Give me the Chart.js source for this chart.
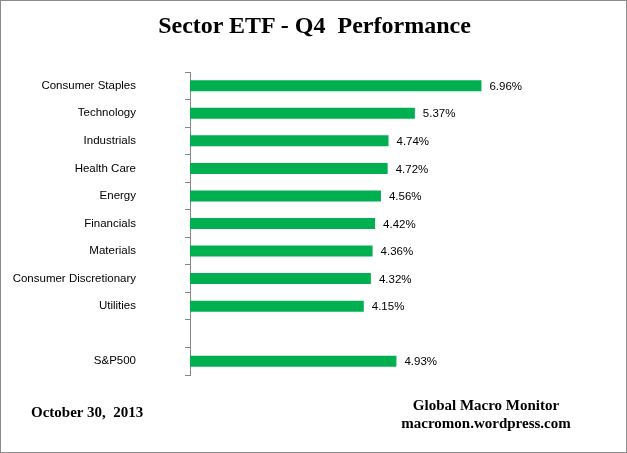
<!DOCTYPE html>
<html>
<head>
<meta charset="utf-8">
<script src="https://cdn.jsdelivr.net/npm/chart.js@4"></script>
<style>
    html, body { margin: 0; padding: 0; background: #fff; }
    #frame {
        position: relative;
        width: 625px;
        height: 451px;
        border: 1px solid #8c8c8c;
        overflow: hidden;
    }
    #chart { position: absolute; left: 0; top: 0; }
    .txt {
        position: absolute;
        font-family: 'Liberation Serif', 'Times New Roman', serif;
        font-weight: bold;
        color: #000;
        white-space: nowrap;
    }
    #title { left: 0; width: 627px; top: 11px; text-align: center; font-size: 24px; }
    #date { left: 30px; top: 403px; font-size: 15px; }
    #credit { left: 385px; width: 200px; top: 395px; text-align: center; font-size: 15px; line-height: 18px; }
</style>
</head>
<body>
<div id="frame">
    <canvas id="chart" width="625" height="451"></canvas>
    <div class="txt" id="title">Sector ETF - Q4&nbsp; Performance</div>
    <div class="txt" id="date">October 30,&nbsp; 2013</div>
    <div class="txt" id="credit">Global Macro Monitor<br>macromon.wordpress.com</div>
</div>
<script>
// Chart data
const categories = ['Consumer Staples', 'Technology', 'Industrials', 'Health Care', 'Energy',
    'Financials', 'Materials', 'Consumer Discretionary', 'Utilities', '', 'S&P500'];
const performance = [6.96, 5.37, 4.74, 4.72, 4.56, 4.42, 4.36, 4.32, 4.15, null, 4.93];

const barColor = '#00b050';
const axisColor = '#868686';
const labelFont = { family: "'Liberation Sans', Arial, sans-serif", size: 11.5 };

// Draws the value label just past the end of each bar
const valueLabels = {
    id: 'valueLabels',
    afterDatasetsDraw(chart) {
        const ctx = chart.ctx;
        const meta = chart.getDatasetMeta(0);
        ctx.save();
        ctx.font = `${labelFont.size}px ${labelFont.family}`;
        ctx.fillStyle = '#000';
        ctx.textAlign = 'left';
        ctx.textBaseline = 'middle';
        meta.data.forEach((bar, i) => {
            const v = performance[i];
            if (v === null) return;
            ctx.fillText(v.toFixed(2) + '%', bar.x + 8, bar.y + 1);
        });
        ctx.restore();
    }
};

new Chart(document.getElementById('chart'), {
    type: 'bar',
    data: {
        labels: categories,
        datasets: [{
            data: performance,
            backgroundColor: barColor,
            borderWidth: 0,
            categoryPercentage: 1,
            barPercentage: 0.4
        }]
    },
    options: {
        indexAxis: 'y',
        responsive: false,
        animation: false,
        layout: {
            padding: { left: 0, right: 101, top: 71, bottom: 77 }
        },
        plugins: {
            legend: { display: false },
            tooltip: { enabled: false }
        },
        scales: {
            x: {
                display: false,
                min: 0,
                max: 8
            },
            y: {
                afterFit: (scale) => { scale.width = 189; },
                border: { display: true, color: axisColor, width: 1 },
                grid: {
                    offset: true,
                    drawOnChartArea: false,
                    drawTicks: true,
                    tickLength: 5,
                    color: axisColor
                },
                ticks: {
                    color: '#000',
                    padding: 49,
                    font: labelFont
                }
            }
        }
    },
    plugins: [valueLabels]
});
</script>
</body>
</html>
